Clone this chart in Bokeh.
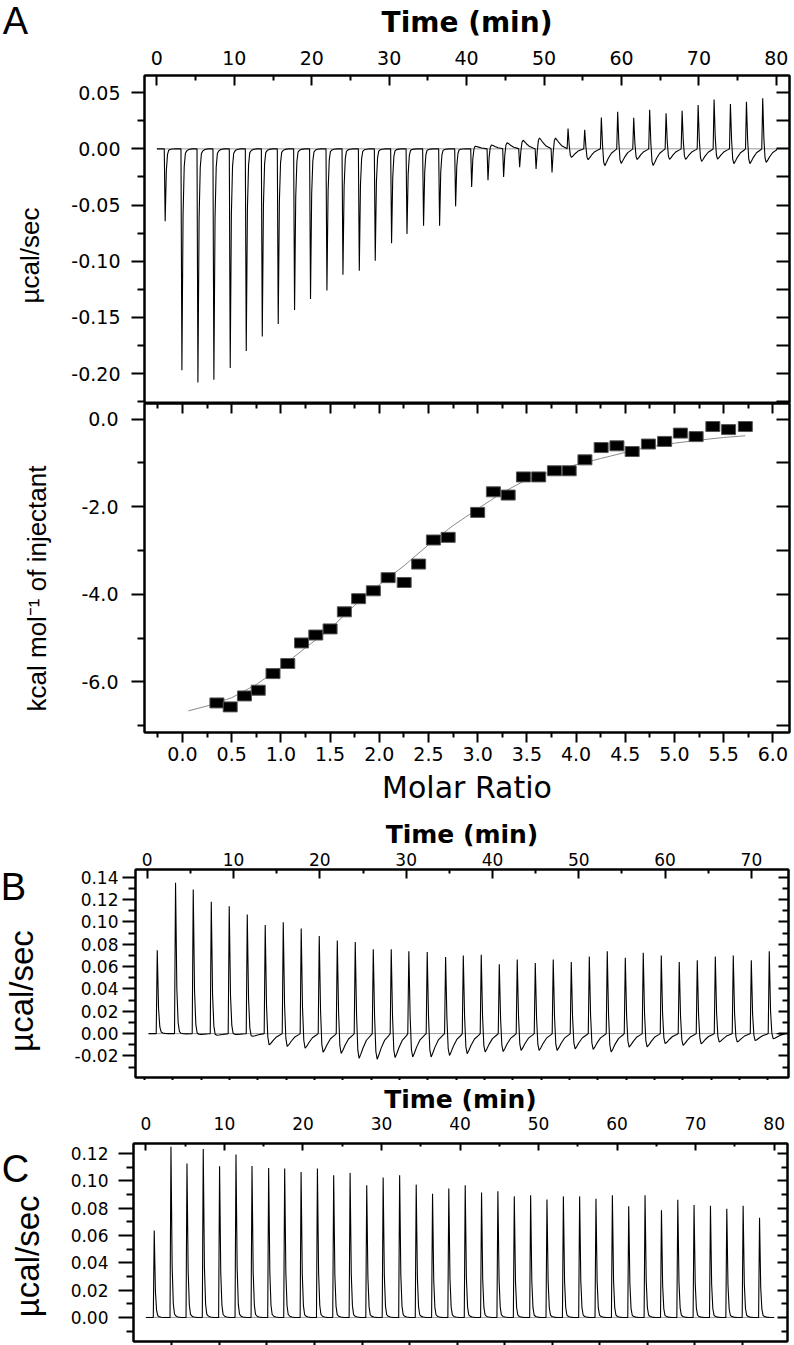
import numpy as np
from bokeh.plotting import figure
from bokeh.models import (Range1d, LinearAxis, FixedTicker, PrintfTickFormatter,
                          CustomJSTickFormatter)
from bokeh.layouts import column, row
from bokeh.core.properties import value
from bokeh.embed import file_html
from bokeh.resources import INLINE

# ---------------- data ----------------
# Panel A (raw ITC trace): spike-tip times (min), spike amplitudes (ucal/sec), after-swing
a_time = [1.07, 3.23, 5.30, 7.36, 9.47, 11.54, 13.61, 15.67, 17.78, 19.84, 21.96, 24.03, 26.14,
          28.20, 30.31, 32.30, 34.44, 36.51, 38.58, 40.65, 42.76, 44.78, 46.85, 48.97, 51.03,
          53.10, 55.25, 57.40, 59.51, 61.58, 63.64, 65.76, 67.83, 69.90, 71.96, 74.07, 76.14, 78.24]
a_peak = [-0.0645, -0.197, -0.208, -0.2056, -0.195, -0.180, -0.167, -0.156, -0.1435, -0.1337,
          -0.126, -0.112, -0.1085, -0.0996, -0.084, -0.0758, -0.0684, -0.0684, -0.0512, -0.034,
          -0.028, -0.025, -0.0164, -0.018, -0.021, 0.018, 0.017, 0.028, 0.033, 0.0276, 0.0348,
          0.0317, 0.034, 0.039, 0.044, 0.040, 0.042, 0.045]
a_dip = [0, 0, 0, 0, 0, 0, 0, 0, 0, 0, 0, 0, 0, 0, 0, 0, 0, 0, 0, 0.003, 0.004, 0.006, 0.008,
         0.010, 0.010, -0.008, -0.010, -0.0155, -0.0136, -0.010, -0.0155, -0.010, -0.010, -0.012,
         -0.010, -0.014, -0.014, -0.013]
a_span = [0.0, 80.0]

# Panel A (integrated heats): molar ratio vs kcal/mol of injectant, and the fitted curve
iso_ratio = [0.35, 0.485, 0.63, 0.77, 0.92, 1.07, 1.21, 1.355, 1.50, 1.645, 1.79, 1.94, 2.09,
             2.253, 2.40, 2.55, 2.70, 3.00, 3.16, 3.31, 3.465, 3.62, 3.78, 3.93, 4.09, 4.255,
             4.415, 4.57, 4.735, 4.90, 5.06, 5.22, 5.39, 5.55, 5.72]
iso_heat = [-6.48, -6.57, -6.32, -6.19, -5.81, -5.58, -5.11, -4.93, -4.79, -4.40, -4.10, -3.92,
            -3.62, -3.73, -3.31, -2.76, -2.70, -2.13, -1.66, -1.735, -1.32, -1.32, -1.18, -1.18,
            -0.93, -0.65, -0.61, -0.74, -0.57, -0.51, -0.32, -0.40, -0.17, -0.24, -0.17]
fit_ratio = [0.06, 0.25, 0.5, 0.75, 1.0, 1.25, 1.5, 1.75, 2.0, 2.25, 2.5, 2.75, 3.0, 3.25, 3.5,
             3.75, 4.0, 4.25, 4.5, 4.75, 5.0, 5.25, 5.5, 5.72]
fit_heat = [-6.66, -6.55, -6.36, -6.06, -5.67, -5.22, -4.79, -4.25, -3.78, -3.35, -2.87, -2.43,
            -2.05, -1.68, -1.38, -1.20, -1.04, -0.90, -0.76, -0.63, -0.55, -0.48, -0.42, -0.38]

# Panel B raw trace
b_time = [1.16, 3.28, 5.33, 7.42, 9.50, 11.59, 13.67, 15.76, 17.84, 19.93, 22.02, 24.10, 26.19,
          28.27, 30.31, 32.44, 34.57, 36.62, 38.70, 40.79, 42.87, 44.96, 47.04, 49.13, 51.22,
          53.30, 55.39, 57.47, 59.56, 61.64, 63.73, 65.82, 67.90, 69.99, 72.07]
b_peak = [0.0745, 0.135, 0.129, 0.118, 0.114, 0.1067, 0.0972, 0.0996, 0.094, 0.0874, 0.0833,
          0.082, 0.0755, 0.0755, 0.0738, 0.073, 0.0685, 0.070, 0.0706, 0.062, 0.0664, 0.0631,
          0.0664, 0.064, 0.0691, 0.0738, 0.0679, 0.0724, 0.070, 0.064, 0.0656, 0.0691, 0.070,
          0.0656, 0.0736]
b_dip = [0.0, -0.001, -0.002, -0.003, -0.002, -0.004, -0.012, -0.0134, -0.015, -0.0185, -0.0194,
         -0.0238, -0.0245, -0.023, -0.0224, -0.0224, -0.0209, -0.0194, -0.0179, -0.0173, -0.0164,
         -0.0164, -0.0164, -0.0149, -0.0155, -0.0179, -0.0134, -0.0134, -0.0104, -0.0119,
         -0.0104, -0.0089, -0.0089, -0.0075, -0.006]
b_span = [0.15, 72.9]

# Panel C raw trace
c_time = [1.06, 3.19, 5.23, 7.30, 9.38, 11.47, 13.51, 15.63, 17.67, 19.76, 21.84, 23.91, 26.00,
          28.12, 30.21, 32.31, 34.42, 36.50, 38.57, 40.66, 42.74, 44.82, 46.91, 48.99, 51.07,
          53.16, 55.23, 57.31, 59.40, 61.48, 63.56, 65.65, 67.73, 69.80, 71.89, 73.97, 76.05, 78.14]
c_peak = [0.0637, 0.1249, 0.1127, 0.1232, 0.1107, 0.1193, 0.1109, 0.1094, 0.109, 0.1065, 0.109,
          0.1041, 0.1058, 0.0967, 0.1024, 0.104, 0.0972, 0.0906, 0.0943, 0.0967, 0.0914, 0.0923,
          0.0886, 0.0894, 0.0864, 0.0886, 0.0886, 0.0869, 0.0894, 0.0813, 0.0894, 0.0784, 0.0862,
          0.0823, 0.0818, 0.0796, 0.0818, 0.073]
c_dip = [0.0] * len(c_peak)
c_span = [0.0, 80.0]

# tick values
a_time_ticks = [0, 10, 20, 30, 40, 50, 60, 70, 80]
a_time_minor = [5, 15, 25, 35, 45, 55, 65, 75]
a_rate_ticks = [-0.20, -0.15, -0.10, -0.05, 0.0, 0.05]
a_rate_minor = [-0.225, -0.175, -0.125, -0.075, -0.025, 0.025]
mr_ticks = [0.0, 0.5, 1.0, 1.5, 2.0, 2.5, 3.0, 3.5, 4.0, 4.5, 5.0, 5.5, 6.0]
mr_minor = [-0.25, 0.25, 0.75, 1.25, 1.75, 2.25, 2.75, 3.25, 3.75, 4.25, 4.75, 5.25, 5.75]
kcal_ticks = [-6.0, -4.0, -2.0, 0.0]
kcal_minor = [-7.0, -5.0, -3.0, -1.0]
b_time_ticks = [0, 10, 20, 30, 40, 50, 60, 70]
b_time_minor = [5, 15, 25, 35, 45, 55, 65]
b_rate_ticks = [-0.02, 0.0, 0.02, 0.04, 0.06, 0.08, 0.10, 0.12, 0.14]
b_rate_minor = [-0.03, -0.01, 0.01, 0.03, 0.05, 0.07, 0.09, 0.11, 0.13]
c_rate_ticks = [0.0, 0.02, 0.04, 0.06, 0.08, 0.10, 0.12]
c_rate_minor = [-0.01, 0.01, 0.03, 0.05, 0.07, 0.09, 0.11]
b_bottom_ticks = list(range(0, 23))
c_bottom_ticks = list(range(0, 13))

# ---------------- drawing helpers ----------------
# injection-peak template (offset from spike tip in min, fraction of spike, fraction of after-swing)
OFF = [-0.12, 0.0, 0.15, 0.3, 0.45, 0.65, 0.9, 1.3, 1.8]
PK = [0.0, 1.0, 0.3, 0.08, 0.02, 0.008, 0.003, 0.0, 0.0]
DP = [0.0, 0.0, 0.3, 0.9, 1.0, 0.8, 0.55, 0.25, 0.07]

STRIP_W = 54
MAIN_W = 794 - STRIP_W


def trace(span, times, peaks, dips):
    xs, ys = [span[0]], [0.0]
    for t, h, d in zip(times, peaks, dips):
        for o, fp, fd in zip(OFF, PK, DP):
            xs.append(t + o)
            ys.append(h * fp + d * fd)
    xs.append(span[1])
    ys.append(0.0)
    return xs, ys


def base_fig(height, bl, br, bt, bb, xr, yr):
    p = figure(width=MAIN_W, height=height, x_range=Range1d(*xr), y_range=Range1d(*yr),
               output_backend="svg", toolbar_location=None,
               x_axis_location=None, y_axis_location=None,
               min_border_left=bl, min_border_right=br, min_border_top=bt, min_border_bottom=bb)
    p.xgrid.visible = False
    p.ygrid.visible = False
    p.outline_line_color = "black"
    p.outline_line_width = 2
    p.background_fill_color = "white"
    p.border_fill_color = "white"
    return p


def strip(height):
    s = figure(width=STRIP_W, height=height, x_range=Range1d(0, STRIP_W),
               y_range=Range1d(height, 0), output_backend="svg", toolbar_location=None,
               x_axis_location=None, y_axis_location=None,
               min_border_left=0, min_border_right=0, min_border_top=0, min_border_bottom=0)
    s.xgrid.visible = False
    s.ygrid.visible = False
    s.outline_line_color = None
    s.background_fill_color = "white"
    s.border_fill_color = "white"
    return s


def strip_text(s, x, y, txt, size, angle=0.0):
    s.text(x=[x], y=[y], text=[txt], text_font=value("Liberation Sans"), text_font_size=size,
           text_align="center", text_baseline="middle", angle=angle, text_color="black")


def add_axis(p, side, ticks, minor=(), size="19px", fmt="%.2f", t_in=0, t_out=0,
             m_in=0, m_out=0, standoff=0, labels=True, range_name=None,
             title=None, title_size="28px", title_style="bold", title_standoff=0):
    kw = {}
    if range_name:
        kw["x_range_name"] = range_name
    if labels:
        formatter = PrintfTickFormatter(format=fmt)
    else:
        formatter = CustomJSTickFormatter(code="return ''")
        size = "1px"
    ax = LinearAxis(ticker=FixedTicker(ticks=list(ticks), minor_ticks=list(minor)),
                    formatter=formatter, **kw)
    ax.axis_line_color = "black"
    ax.axis_line_width = 2
    ax.major_tick_line_color = "black"
    ax.major_tick_line_width = 2
    ax.minor_tick_line_color = "black"
    ax.minor_tick_line_width = 2
    ax.major_tick_in = t_in
    ax.major_tick_out = t_out
    ax.minor_tick_in = m_in
    ax.minor_tick_out = m_out
    ax.major_label_text_font = "DejaVu Sans"
    ax.major_label_text_font_size = size
    ax.major_label_text_color = "black"
    ax.major_label_standoff = standoff
    if title:
        ax.axis_label = title
        ax.axis_label_text_font = "DejaVu Sans"
        ax.axis_label_text_font_size = title_size
        ax.axis_label_text_font_style = title_style
        ax.axis_label_text_color = "black"
        ax.axis_label_standoff = title_standoff
    p.add_layout(ax, side)
    return ax


LB_A = 144 - STRIP_W
LB_B = 135 - STRIP_W
LB_C = 133 - STRIP_W

# ---------------- Panel A, raw heats ----------------
pA1 = base_fig(403, LB_A, 5, 75, 0, (-1.6, 81.7), (-0.2267, 0.0653))
add_axis(pA1, "above", a_time_ticks, a_time_minor, "19px", "%d", t_in=10, m_in=5, standoff=11,
         title="Time (min)", title_size="28px", title_style="bold", title_standoff=9)
add_axis(pA1, "left", a_rate_ticks, a_rate_minor, "19px", "%.2f", t_out=13, m_out=7, standoff=11)
add_axis(pA1, "right", a_rate_ticks + a_rate_minor, [], t_in=13, labels=False)
pA1.line(a_span, [0, 0], line_color="#9a9a9a", line_width=1)
ax_, ay_ = trace(a_span, a_time, a_peak, a_dip)
pA1.line(ax_, ay_, line_color="black", line_width=1.1)

# ---------------- Panel A, integrated heats ----------------
pA2 = base_fig(410, LB_A, 5, 0, 81, (-0.386, 6.169), (-7.155, 0.356))
add_axis(pA2, "below", mr_ticks, mr_minor, "19px", "%.1f", t_out=10, m_out=5, standoff=4,
         title="Molar Ratio", title_size="30px", title_style="normal", title_standoff=6)
add_axis(pA2, "above", mr_ticks, mr_minor, t_in=10, m_in=5, labels=False)
add_axis(pA2, "left", kcal_ticks, kcal_minor, "19px", "%.1f", t_out=13, m_out=7, standoff=13)
add_axis(pA2, "right", kcal_ticks + kcal_minor, [], t_in=13, labels=False)
pA2.line(fit_ratio, fit_heat, line_color="#8a8a8a", line_width=1)
pA2.rect(iso_ratio, iso_heat, width=14, height=10, width_units="screen", height_units="screen",
         fill_color="black", line_color="#555555", line_width=1)

sA = strip(813)
strip_text(sA, 15, 20, "A", "38px")
strip_text(sA, 29, 255, "µcal/sec", "26px", angle=np.pi / 2)
strip_text(sA, 36, 588, "kcal mol\u207b\u00b9 of injectant", "26px", angle=np.pi / 2)

# ---------------- Panel B ----------------
pB = base_fig(267, LB_B, 6, 56, 3, (-1.36, 74.3), (-0.0393, 0.1469))
pB.extra_x_ranges = {"inj": Range1d(-0.318, 22.73)}
add_axis(pB, "above", b_time_ticks, b_time_minor, "17px", "%d", t_in=9, m_in=4, standoff=4,
         title="Time (min)", title_size="25px", title_style="bold", title_standoff=1)
add_axis(pB, "left", b_rate_ticks, b_rate_minor, "17px", "%.2f", t_out=13, m_out=7, standoff=4)
add_axis(pB, "right", b_rate_ticks, b_rate_minor, t_in=10, m_in=6, labels=False)
add_axis(pB, "below", b_bottom_ticks, [], t_out=3, labels=False, range_name="inj")
pB.line(b_span, [0, 0], line_color="#9a9a9a", line_width=1)
bx_, by_ = trace(b_span, b_time, b_peak, b_dip)
pB.line(bx_, by_, line_color="black", line_width=1.1)

sB = strip(267)
strip_text(sB, 13, 23, "B", "38px")
strip_text(sB, 21, 156, "µcal/sec", "33px", angle=np.pi / 2)

# ---------------- Panel C ----------------
pC = base_fig(265, LB_C, 7, 63, 4, (-1.58, 81.7), (-0.0176, 0.1273))
pC.extra_x_ranges = {"inj": Range1d(-0.808, 12.95)}
add_axis(pC, "above", a_time_ticks, a_time_minor, "17px", "%d", t_in=7, m_in=3, standoff=14,
         title="Time (min)", title_size="25px", title_style="bold", title_standoff=0)
add_axis(pC, "left", c_rate_ticks, c_rate_minor, "17px", "%.2f", t_out=15, m_out=7, standoff=10)
add_axis(pC, "right", c_rate_ticks, c_rate_minor, t_in=10, m_in=6, labels=False)
add_axis(pC, "below", c_bottom_ticks, [], t_out=4, labels=False, range_name="inj")
pC.line(c_span, [0, 0], line_color="#9a9a9a", line_width=1)
cx_, cy_ = trace(c_span, c_time, c_peak, c_dip)
pC.line(cx_, cy_, line_color="black", line_width=1.1)

sC = strip(265)
strip_text(sC, 15, 34, "C", "38px")
strip_text(sC, 27, 151, "µcal/sec", "33px", angle=np.pi / 2)

layout = column(
    row(sA, column(pA1, pA2, spacing=0), spacing=0),
    row(sB, pB, spacing=0),
    row(sC, pC, spacing=0),
    spacing=0,
)
open("out.html", "w").write(file_html(layout, INLINE))
